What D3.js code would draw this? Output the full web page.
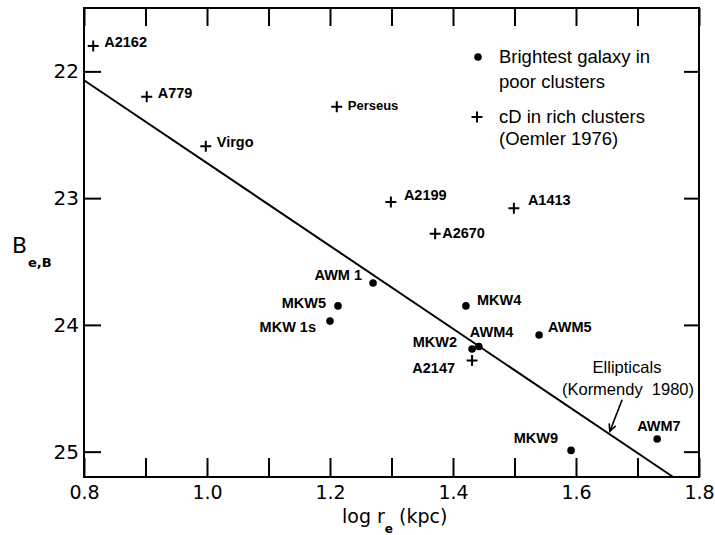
<!DOCTYPE html>
<html>
<head>
<meta charset="utf-8">
<script src="https://cdn.jsdelivr.net/npm/d3@7"></script>
<style>
  body { margin: 0; background: #fff; }
  text { font-family: "DejaVu Sans", sans-serif; fill: #000; }
</style>
</head>
<body>
<div id="display"></div>
<script>
// cD galaxies in rich clusters (Oemler 1976)
var cdNames = ["A2162", "A779", "Virgo", "Perseus", "A2199", "A1413", "A2670", "A2147"];
var cdLogR  = [0.815, 0.902, 0.998, 1.211, 1.299, 1.499, 1.371, 1.431];
var cdB     = [21.80, 22.20, 22.59, 22.28, 23.03, 23.08, 23.28, 24.28];

// brightest galaxy in poor clusters
var poorNames = ["AWM 1", "MKW5", "MKW 1s", "MKW4", "MKW2", "AWM4", "AWM5", "MKW9", "AWM7"];
var poorLogR  = [1.270, 1.213, 1.200, 1.421, 1.431, 1.442, 1.540, 1.592, 1.732];
var poorB     = [23.67, 23.85, 23.97, 23.85, 24.19, 24.17, 24.08, 24.99, 24.90];

// ellipticals relation (Kormendy 1980), end points
var ellLogR = [0.80, 1.758];
var ellB    = [22.07, 25.20];

// arrow from the "Ellipticals" note to the line
var arrowLogR = [1.675, 1.655];
var arrowB    = [24.59, 24.84];

var xTicks = [0.8, 0.9, 1.0, 1.1, 1.2, 1.3, 1.4, 1.5, 1.6, 1.7, 1.8];
var xLabels = ["0.8", "", "1.0", "", "1.2", "", "1.4", "", "1.6", "", "1.8"];
var yTicks = [22, 23, 24, 25];

// where each label sits relative to its point (pixels)
var labelPlace = {
  "A2162":  {dx: 11, dy: 1, a: "start"},
  "A779":   {dx: 11, dy: 1, a: "start"},
  "Virgo":  {dx: 11, dy: 1, a: "start"},
  "Perseus":{dx: 11, dy: 3, a: "start"},
  "A2199":  {dx: 13, dy: -2, a: "start"},
  "A1413":  {dx: 14, dy: -3, a: "start"},
  "A2670":  {dx: 7, dy: 4, a: "start"},
  "A2147":  {dx: -17, dy: 13, a: "end"},
  "AWM 1":  {dx: -11, dy: -3, a: "end"},
  "MKW5":   {dx: -12, dy: 2, a: "end"},
  "MKW 1s": {dx: -14, dy: 11, a: "end"},
  "MKW4":   {dx: 11, dy: -1, a: "start"},
  "MKW2":   {dx: -15, dy: -2, a: "end"},
  "AWM4":   {dx: -9, dy: -9, a: "start"},
  "AWM5":   {dx: 9, dy: -3, a: "start"},
  "MKW9":   {dx: -13, dy: -7, a: "end"},
  "AWM7":   {dx: -20, dy: -8, a: "start"}
};

var width = 715, height = 535;
var margin = {left: 84, right: 16, top: 8, bottom: 58};

var svg = d3.select("#display").append("svg")
    .attr("width", width)
    .attr("height", height);

var x = d3.scaleLinear()
    .domain([0.8, 1.8])
    .range([margin.left, width - margin.right]);

var y = d3.scaleLinear()
    .domain([21.5, 25.2])
    .range([margin.top, height - margin.bottom]);

var fmtX = function(d, i) { return xLabels[i]; };

// bottom axis: inward ticks + labels
svg.append("g")
    .attr("transform", "translate(0," + y(25.2) + ")")
    .call(d3.axisBottom(x).tickValues(xTicks).tickFormat(fmtX).tickSize(-19).tickPadding(9))
    .call(function(g) { g.select(".domain").remove(); })
    .call(function(g) {
      g.selectAll("line").attr("stroke", "#000").attr("stroke-width", 2);
      g.selectAll("text").style("font-family", "DejaVu Sans").style("font-size", "19px").attr("fill", "#000");
    });

// top axis: ticks only
svg.append("g")
    .attr("transform", "translate(0," + y(21.5) + ")")
    .call(d3.axisTop(x).tickValues(xTicks).tickFormat("").tickSize(-18))
    .call(function(g) { g.select(".domain").remove(); })
    .call(function(g) { g.selectAll("line").attr("stroke", "#000").attr("stroke-width", 2); });

// left axis
svg.append("g")
    .attr("transform", "translate(" + x(0.8) + ",0)")
    .call(d3.axisLeft(y).tickValues(yTicks).tickFormat(d3.format("d")).tickSize(-17).tickPadding(5))
    .call(function(g) { g.select(".domain").remove(); })
    .call(function(g) {
      g.selectAll("line").attr("stroke", "#000").attr("stroke-width", 2);
      g.selectAll("text").style("font-family", "DejaVu Sans").style("font-size", "20px").attr("fill", "#000");
    });

// right axis: ticks only
svg.append("g")
    .attr("transform", "translate(" + x(1.8) + ",0)")
    .call(d3.axisRight(y).tickValues(yTicks).tickFormat("").tickSize(-15))
    .call(function(g) { g.select(".domain").remove(); })
    .call(function(g) { g.selectAll("line").attr("stroke", "#000").attr("stroke-width", 2); });

// frame
svg.append("rect")
    .attr("x", x(0.8))
    .attr("y", y(21.5))
    .attr("width", x(1.8) - x(0.8))
    .attr("height", y(25.2) - y(21.5))
    .attr("fill", "none")
    .attr("stroke", "#000")
    .attr("stroke-width", 2);

// Kormendy line
var ell = ellLogR.map(function(v, i) { return [v, ellB[i]]; });
svg.append("path")
    .datum(ell)
    .attr("d", d3.line().x(function(d) { return x(d[0]); }).y(function(d) { return y(d[1]); }))
    .attr("fill", "none")
    .attr("stroke", "#000")
    .attr("stroke-width", 2);

var cd = cdNames.map(function(n, i) { return {name: n, lr: cdLogR[i], b: cdB[i]}; });
var poor = poorNames.map(function(n, i) { return {name: n, lr: poorLogR[i], b: poorB[i]}; });

function crossPath(s) { return "M" + (-s) + ",0H" + s + "M0," + (-s) + "V" + s; }

// crosses
svg.append("g")
  .selectAll("path")
  .data(cd)
  .join("path")
    .attr("transform", function(d) { return "translate(" + x(d.lr) + "," + y(d.b) + ")"; })
    .attr("d", crossPath(5.5))
    .attr("stroke", "#000")
    .attr("stroke-width", 2)
    .attr("fill", "none");

// dots
svg.append("g")
  .selectAll("circle")
  .data(poor)
  .join("circle")
    .attr("cx", function(d) { return x(d.lr); })
    .attr("cy", function(d) { return y(d.b); })
    .attr("r", 3.8)
    .attr("fill", "#000");

// point labels
svg.append("g")
    .style("font-family", "'Liberation Sans', Arial, sans-serif")
    .style("font-size", "14.5px")
    .style("font-weight", "bold")
  .selectAll("text")
  .data(cd.concat(poor))
  .join("text")
    .attr("x", function(d) { return x(d.lr) + labelPlace[d.name].dx; })
    .attr("y", function(d) { return y(d.b) + labelPlace[d.name].dy; })
    .attr("text-anchor", function(d) { return labelPlace[d.name].a; })
    .style("font-family", "'Liberation Sans', Arial, sans-serif")
    .style("font-size", function(d) { return d.name == "Perseus" ? "13px" : null; })
    .text(function(d) { return d.name; });

// Ellipticals note + arrow
var note = svg.append("g").style("font-size", "16.5px");
note.append("text")
    .attr("x", 627).attr("y", 373)
    .attr("text-anchor", "middle")
    .style("font-family", "'Liberation Sans', Arial, sans-serif")
    .text("Ellipticals");
note.append("text")
    .attr("x", 628).attr("y", 395)
    .attr("text-anchor", "middle")
    .style("font-family", "'Liberation Sans', Arial, sans-serif")
    .style("white-space", "pre")
    .text("(Kormendy  1980)");

var ax0 = x(arrowLogR[0]), ay0 = y(arrowB[0]), ax1 = x(arrowLogR[1]), ay1 = y(arrowB[1]);
svg.append("line")
    .attr("x1", ax0).attr("y1", ay0).attr("x2", ax1).attr("y2", ay1)
    .attr("stroke", "#000").attr("stroke-width", 1.6);
var ang = Math.atan2(ay1 - ay0, ax1 - ax0);
var hl = 8, hw = 0.45;
svg.append("path")
    .attr("d", "M" + (ax1 - hl * Math.cos(ang - hw)) + "," + (ay1 - hl * Math.sin(ang - hw)) +
               "L" + ax1 + "," + ay1 +
               "L" + (ax1 - hl * Math.cos(ang + hw)) + "," + (ay1 - hl * Math.sin(ang + hw)))
    .attr("fill", "none").attr("stroke", "#000").attr("stroke-width", 1.6);

// legend
var legend = svg.append("g");
var lf = function(t) { return t.style("font-family", "'Liberation Sans', Arial, sans-serif").style("font-size", "18.5px"); };
legend.append("circle").attr("cx", 478).attr("cy", 57).attr("r", 3.8).attr("fill", "#000");
legend.append("text").attr("x", 499).attr("y", 63).text("Brightest galaxy in").call(lf);
legend.append("text").attr("x", 499).attr("y", 88).text("poor clusters").call(lf);
legend.append("path").attr("transform", "translate(477,117)").attr("d", crossPath(5.5))
    .attr("stroke", "#000").attr("stroke-width", 2);
legend.append("text").attr("x", 499).attr("y", 123).text("cD in rich clusters").call(lf);
legend.append("text").attr("x", 499).attr("y", 145).text("(Oemler 1976)").call(lf);

// axis titles
var xt = svg.append("text")
    .attr("x", 342).attr("y", 523)
    .style("font-size", "19px");
xt.append("tspan").text("log r");
xt.append("tspan").attr("dy", 10).style("font-size", "12px").style("font-weight", "bold").text("e");
xt.append("tspan").attr("dy", -10).style("white-space", "pre").text(" (kpc)");

var yt = svg.append("text")
    .attr("x", 12).attr("y", 253)
    .style("font-size", "22px");
yt.append("tspan").text("B");
yt.append("tspan").attr("x", 28).attr("y", 267).style("font-size", "13px").style("font-weight", "bold").text("e,B");
</script>
</body>
</html>
